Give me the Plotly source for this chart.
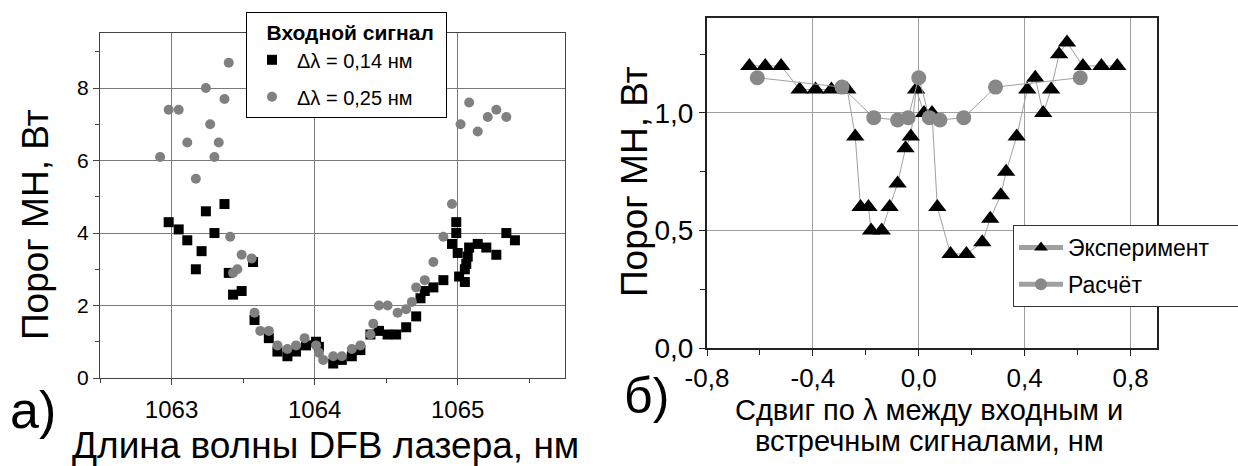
import plotly.graph_objects as go

# ---------------- data: panel (а) ----------------
sq_x = [1062.98, 1063.05, 1063.11, 1063.17, 1063.21, 1063.24, 1063.30, 1063.37, 1063.40, 1063.43,
        1063.49, 1063.57, 1063.58, 1063.68, 1063.74, 1063.81, 1063.87, 1063.94, 1064.01, 1064.03,
        1064.13, 1064.19, 1064.26, 1064.32, 1064.39, 1064.45, 1064.51, 1064.57, 1064.64, 1064.71,
        1064.74, 1064.77, 1064.83, 1064.90, 1064.96, 1064.99, 1064.99, 1065.00, 1065.01, 1065.05,
        1065.05, 1065.06, 1065.07, 1065.08, 1065.14, 1065.20, 1065.27, 1065.34, 1065.40]
sq_y = [4.3, 4.1, 3.8, 3.0, 3.5, 4.6, 4.0, 4.8, 2.9, 2.3,
        2.4, 3.2, 1.6, 1.1, 0.73, 0.6, 0.73, 0.9, 1.0, 0.86,
        0.4, 0.5, 0.6, 0.77, 1.2, 1.3, 1.2, 1.2, 1.4, 1.7,
        2.2, 2.4, 2.5, 2.7, 3.7, 4.3, 4.0, 3.45, 2.8, 2.65,
        3.0, 3.15, 3.35, 3.6, 3.7, 3.6, 3.4, 4.0, 3.8]

circ_x = [1062.92, 1062.98, 1063.05, 1063.11, 1063.17, 1063.24, 1063.27, 1063.30, 1063.33, 1063.37,
          1063.40, 1063.41, 1063.43, 1063.46, 1063.49, 1063.56, 1063.58, 1063.62, 1063.68, 1063.74,
          1063.81, 1063.87, 1063.93, 1064.01, 1064.03, 1064.06, 1064.13, 1064.19, 1064.26, 1064.32,
          1064.39, 1064.41, 1064.45, 1064.51, 1064.58, 1064.64, 1064.68, 1064.71, 1064.77, 1064.83,
          1064.90, 1064.96, 1065.02, 1065.08, 1065.14, 1065.21, 1065.27, 1065.34]
circ_y = [6.1, 7.4, 7.4, 6.5, 5.5, 8.0, 7.0, 6.1, 6.5, 7.7,
          8.7, 3.9, 2.9, 3.0, 3.4, 3.3, 1.8, 1.3, 1.3, 0.9,
          0.8, 0.9, 1.1, 0.9, 0.7, 0.5, 0.6, 0.6, 0.8, 0.9,
          1.2, 1.5, 2.0, 2.0, 1.8, 1.9, 2.1, 2.5, 2.7, 3.2,
          3.9, 4.8, 7.0, 7.6, 6.8, 7.2, 7.4, 7.2]

# ---------------- data: panel (б) ----------------
exp_x = [-0.64, -0.58, -0.52, -0.45, -0.39, -0.33, -0.27, -0.24, -0.22, -0.19,
         -0.18, -0.14, -0.11, -0.08, -0.05, -0.03, -0.01, 0.02, 0.05, 0.07,
         0.12, 0.18, 0.24, 0.27, 0.31, 0.33, 0.37, 0.41, 0.44, 0.47,
         0.50, 0.53, 0.56, 0.62, 0.69, 0.75]
exp_y = [1.2, 1.2, 1.2, 1.1, 1.1, 1.1, 1.1, 0.9, 0.6, 0.6,
         0.5, 0.5, 0.6, 0.7, 0.85, 0.9, 1.1, 1.0, 1.0, 0.6,
         0.4, 0.4, 0.45, 0.55, 0.65, 0.75, 0.9, 1.1, 1.15, 1.0,
         1.1, 1.25, 1.3, 1.2, 1.2, 1.2]

calc_x = [-0.61, -0.29, -0.17, -0.08, -0.04, 0.0, 0.04, 0.08, 0.17, 0.29, 0.61]
calc_y = [1.15, 1.11, 0.98, 0.97, 0.98, 1.15, 0.98, 0.97, 0.98, 1.11, 1.15]

left_x_ticks = [1063, 1064, 1065]
left_y_ticks = [0, 2, 4, 6, 8]
right_x_ticks = [-0.8, -0.4, 0.0, 0.4, 0.8]
right_x_labels = ["-0,8", "-0,4", "0,0", "0,4", "0,8"]
right_y_ticks = [0.0, 0.5, 1.0]
right_y_labels = ["0,0", "0,5", "1,0"]

FONT = "Arial, Liberation Sans, sans-serif"
W, H = 1238, 466
NB = "\u00a0"

fig = go.Figure()

fig.add_trace(go.Scatter(
    x=sq_x, y=sq_y, mode="markers", name="Δλ = 0,14 нм" + NB * 5,
    legendgroup="a1",
    marker=dict(symbol="square", size=10, color="black"),
    xaxis="x", yaxis="y", legend="legend"))
fig.add_trace(go.Scatter(
    x=circ_x, y=circ_y, mode="markers", name="Δλ = 0,25 нм" + NB * 5,
    legendgroup="a2",
    marker=dict(symbol="circle", size=10, color="#808080"),
    xaxis="x", yaxis="y", legend="legend"))

fig.add_trace(go.Scatter(
    x=exp_x, y=exp_y, mode="lines+markers",
    name="Эксперимент" + NB * 4, legendgroup="b1",
    line=dict(color="#a0a0a0", width=1),
    marker=dict(symbol="triangle-up", size=16, color="black"),
    xaxis="x2", yaxis="y2", legend="legend2"))
fig.add_trace(go.Scatter(
    x=calc_x, y=calc_y, mode="lines+markers", name="Расчёт", legendgroup="b2",
    line=dict(color="#a0a0a0", width=1),
    marker=dict(symbol="circle", size=15, color="#888888"),
    xaxis="x2", yaxis="y2", legend="legend2"))


def px_x(p):
    return p / W


def px_y(p):
    return 1 - p / H


axis_common = dict(showline=True, mirror=True, ticks="outside", zeroline=False,
                   showgrid=True)

fig.update_layout(
    width=W, height=H,
    margin=dict(l=0, r=0, t=0, b=0, autoexpand=False),
    paper_bgcolor="white", plot_bgcolor="white",
    font=dict(family=FONT, color="black"),
    xaxis=dict(domain=[px_x(100), px_x(565)], range=[1062.5, 1065.75],
               tickvals=left_x_ticks, ticktext=[str(v) for v in left_x_ticks],
               linecolor="#444444", linewidth=1, gridcolor="#7a7a7a", gridwidth=1,
               ticklen=6, tickcolor="#444444", tickfont=dict(size=24),
               ticklabelstandoff=4,
               minor=dict(tickvals=[1062.5, 1063.5, 1064.5, 1065.5], ticks="outside",
                          ticklen=4, tickcolor="#444444", showgrid=False),
               anchor="y", **axis_common),
    yaxis=dict(domain=[px_y(378), px_y(33)], range=[0, 9.52],
               tickvals=left_y_ticks, ticktext=[str(v) for v in left_y_ticks],
               linecolor="#444444", linewidth=1, gridcolor="#7a7a7a", gridwidth=1,
               ticklen=6, tickcolor="#444444", tickfont=dict(size=21),
               minor=dict(tickvals=[1, 3, 5, 7, 9], ticks="outside", ticklen=4,
                          tickcolor="#444444", showgrid=False),
               anchor="x", **axis_common),
    xaxis2=dict(domain=[px_x(707), px_x(1157)], range=[-0.8, 0.9],
                tickvals=right_x_ticks, ticktext=right_x_labels,
                linecolor="#222222", linewidth=2, gridcolor="#a0a0a0", gridwidth=1,
                ticklen=6, tickcolor="#222222", tickfont=dict(size=26),
                minor=dict(tickvals=[-0.6, -0.2, 0.2, 0.6], ticks="outside", ticklen=5,
                           tickcolor="#222222", showgrid=False),
                anchor="y2", **axis_common),
    yaxis2=dict(domain=[px_y(348), px_y(18)], range=[0, 1.404],
                tickvals=right_y_ticks, ticktext=right_y_labels,
                linecolor="#222222", linewidth=2, gridcolor="#a0a0a0", gridwidth=1,
                ticklen=6, tickcolor="#222222", tickfont=dict(size=28),
                minor=dict(tickvals=[0.25, 0.75, 1.25], ticks="outside", ticklen=5,
                           tickcolor="#222222", showgrid=False),
                anchor="x2", **axis_common),
    legend=dict(x=px_x(246), y=px_y(12), xanchor="left", yanchor="top",
                bgcolor="white", bordercolor="black", borderwidth=1,
                font=dict(size=20, family=FONT),
                title=dict(text=NB * 3 + "<b>Входной сигнал</b>",
                           font=dict(size=21, family=FONT)),
                itemsizing="trace", itemwidth=40, tracegroupgap=8),
    legend2=dict(x=px_x(1013), y=px_y(225), xanchor="left", yanchor="top",
                 bgcolor="white", bordercolor="#333333", borderwidth=1,
                 font=dict(size=23, family=FONT), itemsizing="constant",
                 itemwidth=44, tracegroupgap=4),
    showlegend=True,
)

annotations = [
    dict(text="Порог МН, Вт", x=px_x(35), y=px_y(225), textangle=-90,
         font=dict(size=37)),
    dict(text="Длина волны DFB лазера, нм", x=px_x(325), y=px_y(445),
         font=dict(size=37)),
    dict(text="а)", x=px_x(33), y=px_y(410), font=dict(size=52)),
    dict(text="Порог МН, Вт", x=px_x(634), y=px_y(182), textangle=-90,
         font=dict(size=37)),
    dict(text="Сдвиг по λ между входным и", x=px_x(929), y=px_y(410),
         font=dict(size=29)),
    dict(text="встречным сигналами, нм", x=px_x(929), y=px_y(441),
         font=dict(size=29)),
    dict(text="б)", x=px_x(646), y=px_y(396), font=dict(size=50)),
]
for a in annotations:
    a.update(xref="paper", yref="paper", showarrow=False, xanchor="center",
             yanchor="middle")
    a["font"]["family"] = FONT
    a["font"]["color"] = "black"
fig.update_layout(annotations=annotations)

fig.write_html(
    "out.html",
    config={"displayModeBar": False},
    post_script="document.body.style.margin='0';document.body.style.overflow='hidden';",
)
